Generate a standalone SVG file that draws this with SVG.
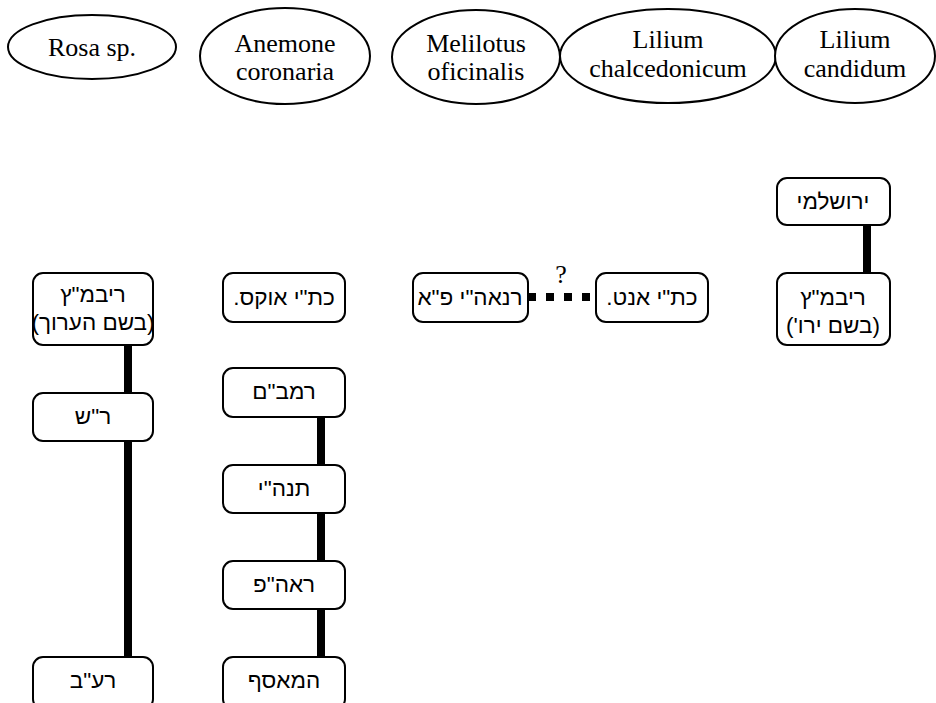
<svg xmlns="http://www.w3.org/2000/svg" width="936" height="703" viewBox="0 0 936 703">
<style>
.ell{fill:#fff;stroke:#000;stroke-width:2}
.box{fill:#fff;stroke:#000;stroke-width:2}
.lt{font-family:"Liberation Serif","Times New Roman",serif;font-size:26px;fill:#000;text-anchor:middle}
.hb{font-family:"Liberation Sans","DejaVu Sans",Arial,sans-serif;font-size:22.5px;fill:#000;text-anchor:middle;direction:rtl}
.con{stroke:#000;stroke-width:8;fill:none}
.dot{stroke:#000;stroke-width:8;fill:none;stroke-dasharray:8 10}
</style>
<rect width="936" height="703" fill="#fff"/>
<g id="connectors">
<line class="con" x1="128" y1="345" x2="128" y2="393"/>
<line class="con" x1="128" y1="441" x2="128" y2="657"/>
<line class="con" x1="321" y1="417" x2="321" y2="465"/>
<line class="con" x1="321" y1="513" x2="321" y2="561"/>
<line class="con" x1="321" y1="609" x2="321" y2="657"/>
<line class="con" x1="867" y1="225" x2="867" y2="273"/>
<line class="dot" x1="528" y1="297" x2="597" y2="297"/>
<text class="lt" x="561" y="283" font-size="24">?</text>
</g>
<g id="rosa"><ellipse class="ell" cx="92" cy="47" rx="84" ry="32"/><text class="lt" x="92" y="56">Rosa sp.</text></g>
<g id="anemone"><ellipse class="ell" cx="285" cy="56" rx="85" ry="48"/><text class="lt" x="285" y="52">Anemone</text><text class="lt" x="285" y="80">coronaria</text></g>
<g id="melilotus"><ellipse class="ell" cx="476" cy="57" rx="84" ry="47"/><text class="lt" x="476" y="52">Melilotus</text><text class="lt" x="476" y="80">oficinalis</text></g>
<g id="lchal"><ellipse class="ell" cx="668" cy="56" rx="108" ry="47"/><text class="lt" x="668" y="48">Lilium</text><text class="lt" x="668" y="77">chalcedonicum</text></g>
<g id="lcand"><ellipse class="ell" cx="855" cy="56" rx="80" ry="47"/><text class="lt" x="855" y="48">Lilium</text><text class="lt" x="855" y="77">candidum</text></g>
<g id="a1"><rect class="box" x="33" y="273" width="120" height="72" rx="10"/><text class="hb" x="93" y="302">ריבמ"ץ</text><text class="hb" x="93" y="330">(בשם הערוך)</text></g>
<g id="a2"><rect class="box" x="33" y="393" width="120" height="48" rx="10"/><text class="hb" x="93" y="424">ר"ש</text></g>
<g id="a3"><rect class="box" x="33" y="657" width="120" height="52" rx="10"/><text class="hb" x="93" y="688">רע"ב</text></g>
<g id="b1"><rect class="box" x="223" y="273" width="122" height="49" rx="10"/><text class="hb" x="284" y="305">כת"י אוקס.</text></g>
<g id="b2"><rect class="box" x="223" y="368" width="122" height="49" rx="10"/><text class="hb" x="284" y="399">רמב"ם</text></g>
<g id="b3"><rect class="box" x="223" y="465" width="122" height="48" rx="10"/><text class="hb" x="284" y="496">תנה"י</text></g>
<g id="b4"><rect class="box" x="223" y="561" width="122" height="48" rx="10"/><text class="hb" x="284" y="592">ראה"פ</text></g>
<g id="b5"><rect class="box" x="223" y="657" width="122" height="52" rx="10"/><text class="hb" x="284" y="688">המאסף</text></g>
<g id="c1"><rect class="box" x="413" y="273" width="115" height="49" rx="10"/><text class="hb" x="470" y="305">רנאה"י פ"א</text></g>
<g id="c2"><rect class="box" x="596" y="273" width="112" height="49" rx="10"/><text class="hb" x="652" y="305">כת"י אנט.</text></g>
<g id="d1"><rect class="box" x="777" y="178" width="113" height="47" rx="10"/><text class="hb" x="833" y="209">ירושלמי</text></g>
<g id="d2"><rect class="box" x="777" y="273" width="113" height="72" rx="10"/><text class="hb" x="833" y="305">ריבמ"ץ</text><text class="hb" x="833" y="333">(בשם ירו')</text></g>
</svg>
